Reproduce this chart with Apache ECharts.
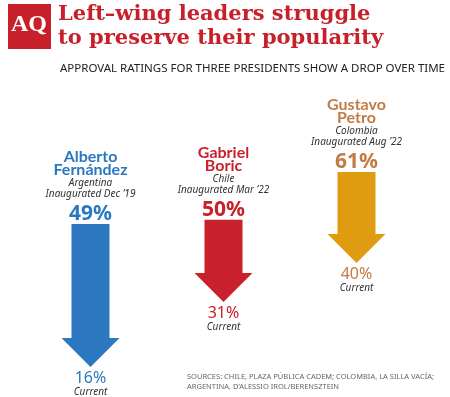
<!DOCTYPE html>
<html>
<head>
<meta charset="utf-8">
<script src="https://cdn.jsdelivr.net/npm/echarts@6/dist/echarts.min.js"></script>
<style>
  html, body { margin: 0; padding: 0; background: #fff; }
  #chart { width: 450px; height: 397px; }
</style>
</head>
<body>
<div id="chart"></div>
<script>
// approval ratings: at inauguration vs current
const presidents = ['Alberto\nFernández', 'Gabriel\nBoric', 'Gustavo\nPetro'];
const countries = ['Argentina', 'Chile', 'Colombia'];
const inaugurated = ['Inaugurated Dec ’19', 'Inaugurated Mar ’22', 'Inaugurated Aug ’22'];
const startApproval = [49, 50, 61];
const currentApproval = [16, 31, 40];

const arrowColors = ['#2b78c1', '#c9212b', '#e09c10'];
const textColors = ['#2b78c1', '#c9212b', '#c27b45'];

const chart = echarts.init(document.getElementById('chart'));

function label(x, y, text, fill, font) {
  return {
    type: 'text',
    x: x,
    y: y,
    style: { text: text, fill: fill, font: font, align: 'center', verticalAlign: 'middle' }
  };
}

function renderArrow(params, api) {
  const i = api.value(0);
  const top = api.coord([i, api.value(1)]);
  const tip = api.coord([i, api.value(2)]);
  const cx = top[0];
  const shaft = 19, head = 29, headH = 29;
  const neck = tip[1] - headH;
  const names = presidents[i].split('\n');
  const col = textColors[i];
  return {
    type: 'group',
    children: [
      {
        type: 'polygon',
        shape: {
          points: [
            [cx - shaft, top[1]], [cx + shaft, top[1]], [cx + shaft, neck],
            [cx + head, neck], [cx, tip[1]], [cx - head, neck], [cx - shaft, neck]
          ]
        },
        style: { fill: arrowColors[i] }
      },
      label(cx, top[1] - 67, names[0], col, 'bold 16px Lato'),
      label(cx, top[1] - 54, names[1], col, 'bold 16px Lato'),
      label(cx, top[1] - 41, countries[i], '#333', 'italic 10px "Noto Sans"'),
      label(cx, top[1] - 30, inaugurated[i], '#333', 'italic 10px "Noto Sans"'),
      label(cx, top[1] - 10, api.value(1) + '%', col, 'bold 21px "Noto Sans"'),
      label(cx, tip[1] + 11, api.value(2) + '%', col, '16px "Noto Sans"'),
      label(cx, tip[1] + 25, 'Current', '#333', 'italic 10px "Noto Sans"')
    ]
  };
}

chart.setOption({
  animation: false,
  title: [
    {
      text: 'Left–wing leaders struggle\nto preserve their popularity',
      left: 58,
      top: 3,
      padding: 0,
      textStyle: { fontFamily: 'DejaVu Serif', fontWeight: 'bold', fontSize: 21, lineHeight: 24, color: '#c8202a' }
    },
    {
      text: 'APPROVAL RATINGS FOR THREE PRESIDENTS SHOW A DROP OVER TIME',
      left: 60,
      top: 63,
      padding: 0,
      textStyle: { fontFamily: 'Noto Sans', fontWeight: 'normal', fontSize: 11.5, color: '#222' }
    },
    {
      text: 'SOURCES: CHILE, PLAZA PÚBLICA CADEM; COLOMBIA, LA SILLA VACÍA;\nARGENTINA, D’ALESSIO IROL/BERENSZTEIN',
      left: 187,
      top: 372,
      padding: 0,
      textStyle: { fontFamily: 'Noto Sans', fontWeight: 'normal', fontSize: 7.5, lineHeight: 10, color: '#666' }
    }
  ],
  graphic: [
    { type: 'rect', left: 8, top: 4, shape: { width: 43, height: 45 }, style: { fill: '#c8202a' } },
    { type: 'text', left: 11, top: 13, style: { text: 'AQ', fill: '#fff', font: 'bold 24px "Liberation Serif"' } }
  ],
  grid: { left: 24, right: 27, top: 133, bottom: 4 },
  xAxis: { type: 'category', data: presidents, show: false },
  yAxis: { type: 'value', min: 10, max: 70, show: false },
  series: [
    {
      type: 'custom',
      renderItem: renderArrow,
      clip: false,
      encode: { x: 0, y: [1, 2] },
      data: startApproval.map((s, i) => [i, s, currentApproval[i]])
    }
  ]
});
</script>
</body>
</html>
